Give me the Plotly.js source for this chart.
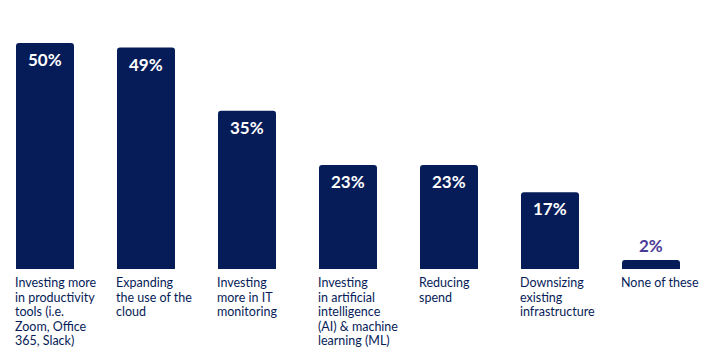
<!DOCTYPE html>
<html><head><meta charset="utf-8">
<script src="https://cdn.plot.ly/plotly-3.0.1.min.js"></script>
<style>html,body{margin:0;padding:0;background:#fff}#chart{width:714px;height:362px}</style>
</head><body><div id="chart"></div>
<script>
const categories = [
  "Investing more<br>in productivity<br>tools (i.e.<br>Zoom, Office<br>365, Slack)",
  "Expanding<br>the use of the<br>cloud",
  "Investing<br>more in IT<br>monitoring",
  "Investing<br>in artificial<br>intelligence<br>(AI) & machine<br>learning (ML)",
  "Reducing<br>spend",
  "Downsizing<br>existing<br>infrastructure",
  "None of these"
];
const values = [50, 49, 35, 23, 23, 17, 2];
const valueLabels = ["50%", "49%", "35%", "23%", "23%", "17%", "2%"];

const navy = "#061c58";
const purple = "#4b3b96";
const xs = categories.map((_, i) => i);
const barW = 0.574;

const annotations = [];
categories.forEach((c, i) => {
  c.split('<br>').forEach((line, k) => {
    annotations.push({
      x: i - barW / 2, y: 0, xref: 'x', yref: 'y',
      xanchor: 'left', yanchor: 'top', align: 'left',
      text: line, showarrow: false, yshift: -4 - k * 14.6, xshift: -3,
      font: {family: 'Lato, sans-serif', size: 12.5, color: navy}
    });
  });
  const inside = values[i] >= 10;
  annotations.push({
    x: i, y: values[i], xref: 'x', yref: 'y',
    xanchor: 'center', yanchor: inside ? 'top' : 'bottom',
    text: '<b>' + valueLabels[i] + '</b>', showarrow: false,
    yshift: inside ? -4 : 2,
    font: {family: 'Lato, sans-serif', size: 17, color: inside ? '#ffffff' : purple}
  });
});

const data = [{
  type: 'bar', x: xs, y: values, width: barW,
  marker: {color: navy}, hoverinfo: 'none'
}];
const layout = {
  width: 714, height: 362,
  margin: {l: 0, r: 0, t: 0, b: 93},
  paper_bgcolor: '#fff', plot_bgcolor: '#fff',
  barcornerradius: 3,
  xaxis: {range: [-45/101, 669/101], showgrid: false, zeroline: false, showticklabels: false, ticks: '', showline: false},
  yaxis: {range: [0, 269/4.52], showgrid: false, zeroline: false, showticklabels: false, ticks: '', showline: false},
  showlegend: false,
  annotations: annotations
};
Plotly.newPlot('chart', data, layout, {displayModeBar: false, staticPlot: true});
</script></body></html>
